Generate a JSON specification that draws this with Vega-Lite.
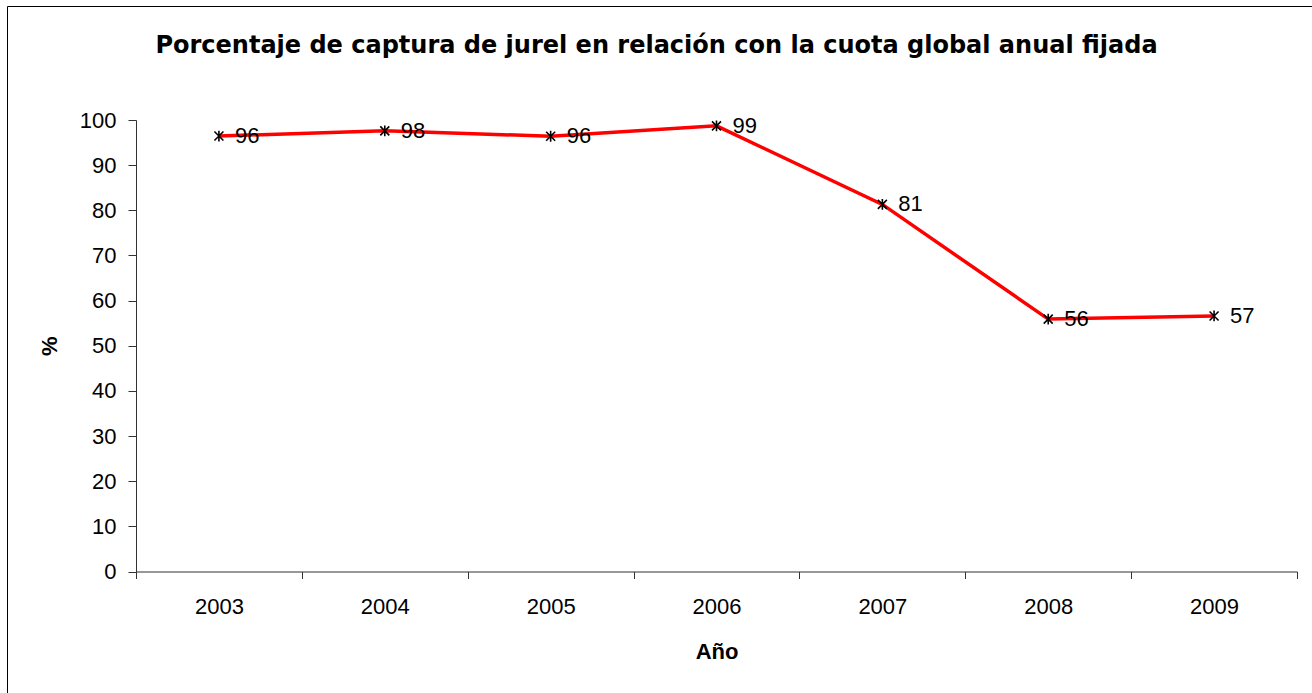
{
  "$schema": "https://vega.github.io/schema/vega-lite/v6.json",
  "autosize": {"type": "none"},
  "padding": {"left": 7, "top": 6, "right": 0, "bottom": 0},
  "width": 1305,
  "height": 687,
  "background": "white",
  "config": {
    "view": {"stroke": "#000000", "strokeWidth": 1},
    "font": "Liberation Sans"
  },
  "title": {
    "text": "Porcentaje de captura de jurel en relación con la cuota global anual fijada",
    "font": "DejaVu Sans",
    "fontSize": 24,
    "fontWeight": "bold",
    "color": "#000000",
    "anchor": "middle",
    "frame": "group",
    "offset": 0,
    "baseline": "alphabetic",
    "dy": 71,
    "dx": -3
  },
  "data": {
    "values": [
      {"year": "2003", "pct": 96.45},
      {"year": "2004", "pct": 97.6},
      {"year": "2005", "pct": 96.4},
      {"year": "2006", "pct": 98.7},
      {"year": "2007", "pct": 81.3},
      {"year": "2008", "pct": 55.9},
      {"year": "2009", "pct": 56.6}
    ]
  },
  "encoding": {
    "x": {
      "field": "year",
      "type": "ordinal",
      "scale": {"type": "band", "range": [129, 1290], "paddingInner": 0, "paddingOuter": 0},
      "axis": {
        "orient": "bottom",
        "offset": -121.5,
        "tickBand": "extent",
        "tickSize": 7,
        "tickColor": "#333333",
        "domainColor": "#333333",
        "labelPadding": 18,
        "labelAngle": 0,
        "labelFont": "Liberation Sans",
        "labelFontSize": 22,
        "labelColor": "#000000",
        "grid": false,
        "title": "Año",
        "titleFont": "Liberation Sans",
        "titleFontSize": 22,
        "titleFontWeight": "bold",
        "titleColor": "#000000",
        "titleY": 87,
        "titleBaseline": "alphabetic"
      }
    },
    "y": {
      "field": "pct",
      "type": "quantitative",
      "scale": {"domain": [0, 100], "range": [565.5, 114], "nice": false, "zero": true},
      "axis": {
        "orient": "left",
        "offset": -129,
        "values": [0, 10, 20, 30, 40, 50, 60, 70, 80, 90, 100],
        "tickSize": 8,
        "tickColor": "#333333",
        "domainColor": "#333333",
        "labelPadding": 12,
        "labelFont": "Liberation Sans",
        "labelFontSize": 22,
        "labelColor": "#000000",
        "grid": false,
        "title": "%",
        "titleFont": "Liberation Sans",
        "titleFontSize": 22,
        "titleFontWeight": "bold",
        "titleColor": "#000000",
        "titleX": -87,
        "titleBaseline": "middle"
      }
    }
  },
  "layer": [
    {"mark": {"type": "line", "color": "#FF0000", "strokeWidth": 3.5}},
    {
      "mark": {
        "type": "point",
        "shape": "M-1,-1L1,1M1,-1L-1,1M0,-1.2L0,1.2",
        "size": 81,
        "filled": false,
        "color": "#000000",
        "strokeWidth": 1.6,
        "opacity": 1
      }
    },
    {
      "mark": {
        "type": "text",
        "align": "left",
        "baseline": "middle",
        "dx": 16,
        "font": "Liberation Sans",
        "fontSize": 22,
        "color": "#000000"
      },
      "encoding": {"text": {"field": "pct", "type": "quantitative", "format": ".0f"}}
    }
  ]
}
